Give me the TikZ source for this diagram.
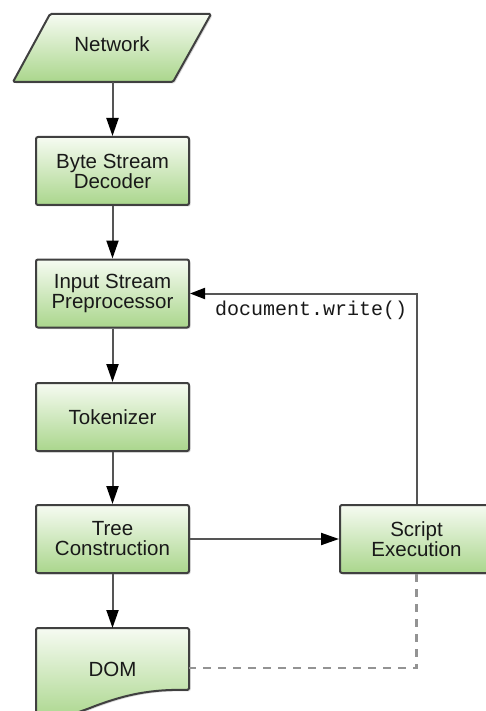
\documentclass[tikz,border=0pt]{standalone}
\usepackage{fontspec}
\setmainfont{Liberation Sans}
\setmonofont{Liberation Mono}
\usetikzlibrary{arrows.meta,shadows}
\definecolor{greentop}{HTML}{F6FBF2}
\definecolor{greenbot}{HTML}{AAD68C}
\definecolor{edgegray}{HTML}{404040}
\definecolor{linegray}{HTML}{555555}
\begin{document}
\begin{tikzpicture}[x=1pt,y=-1pt,
  shapefill/.style={draw=edgegray, line width=2pt, top color=greentop, bottom color=greenbot,
    drop shadow={opacity=0.3, shadow xshift=1.5pt, shadow yshift=-1.5pt}},
  proc/.style={shapefill, rounded corners=2pt, minimum width=153pt, minimum height=68pt,
    inner sep=0pt, align=center, font=\fontsize{20.5}{20}\selectfont, text=black!90},
  lbl/.style={inner sep=0pt, align=center, font=\fontsize{20.5}{20}\selectfont, text=black!90},
  flow/.style={draw=linegray, line width=2pt, -{Triangle[length=18pt,width=12pt,color=black,fill=black]}},
  dashline/.style={draw=gray!85, line width=2.2pt, dash pattern=on 8pt off 7pt}]
\fill[white] (0,0) rectangle (486,711);
\useasboundingbox (0,0) rectangle (486,711);
\clip (0,0) rectangle (486,711);

% Network (parallelogram)
\path[shapefill, rounded corners=1.5pt] (50,14) -- (211,14) -- (173,82) -- (13,82) -- cycle;
\node[lbl] (net) at (112,44) {Network};
\coordinate (netb) at (112.5,82);

% process boxes
\node[proc] (byte) at (112.5,171) {Byte Stream\\Decoder};
\node[proc] (input) at (112.5,293.5) {Input Stream\\Preprocessor};
\node[proc] (tok) at (112.5,417) {Tokenizer};
\node[proc] (tree) at (112.5,539) {Tree\\Construction};
\node[proc] (script) at (416.5,539) {Script\\Execution};

% DOM (document shape)
\path[shapefill, rounded corners=1.5pt] (36,628) -- (189,628) -- (189,690)
  .. controls (150,689) and (125,695) .. (95,706)
  .. controls (70,716) and (50,720) .. (36,721) -- cycle;
\node[lbl] (dom) at (112.5,669) {DOM};
\coordinate (domr) at (189,668);

% connectors
\draw[flow] (netb) -- (byte.north);
\draw[flow] (byte.south) -- (input.north);
\draw[flow] (input.south) -- (tok.north);
\draw[flow] (tok.south) -- (tree.north);
\draw[flow] (tree.south) -- (112.5,628);
\draw[flow] (tree.east) -- (script.west);
\draw[flow, -{Triangle[length=15pt,width=11pt,color=black,fill=black]}] (script.north) |- (input.east);
\node[inner sep=0pt, anchor=base west, font=\fontsize{20}{20}\ttfamily, text=black!90] (dw) at (215,315) {document.write()};
\draw[dashline] (script.south) |- (domr);
\end{tikzpicture}
\end{document}
